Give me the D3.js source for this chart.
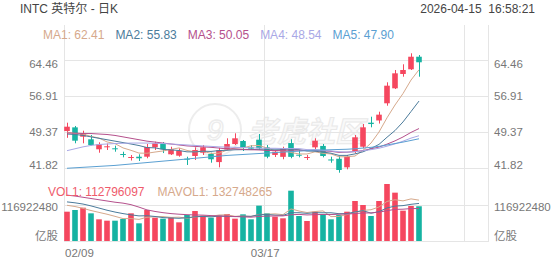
<!DOCTYPE html>
<html>
<head>
<meta charset="utf-8">
<script src="https://cdnjs.cloudflare.com/ajax/libs/d3/7.8.5/d3.min.js"></script>
<style>
  body { margin: 0; background: #fff; }
  svg { display: block; }
  text { font-family: "Liberation Sans", Arial, "Noto Sans CJK SC", sans-serif; }
</style>
</head>
<body>
<svg id="chart" width="552" height="265"></svg>
<script>
// daily candles, INTC
const dates = ["02/09","02/10","02/11","02/12","02/13","02/17","02/18","02/19","02/20",
  "02/23","02/24","02/25","02/26","02/27","03/02","03/03","03/04","03/05","03/06",
  "03/09","03/10","03/11","03/12","03/13","03/16","03/17","03/18","03/19","03/20",
  "03/23","03/24","03/25","03/26","03/27","03/30","03/31","04/01","04/02",
  "04/06","04/07","04/08","04/09","04/10","04/13","04/14"];
const opens  = [49.53,50.30,48.34,47.79,45.69,46.17,45.90,44.70,43.92,44.13,44.13,46.11,46.80,44.64,44.34,
  43.71,44.28,44.97,44.70,43.00,45.65,46.80,47.43,46.10,47.70,46.10,44.50,44.10,47.00,44.55,43.90,46.10,46.40,
  43.55,43.70,41.90,45.18,46.23,51.28,51.75,55.36,58.51,61.52,62.51,65.15];
const highs  = [51.28,50.59,49.60,48.69,47.16,46.91,46.45,45.18,44.49,44.64,46.80,47.29,47.20,46.23,45.90,
  44.13,46.11,46.59,44.97,46.00,48.00,49.05,47.64,46.59,48.90,46.59,45.54,46.23,47.80,45.54,44.49,48.00,46.80,
  44.13,44.28,44.49,48.69,51.00,52.54,53.59,59.77,62.36,63.56,65.87,65.51];
const lows   = [48.10,46.95,46.95,46.49,44.97,45.54,45.18,44.00,43.33,43.23,43.80,45.54,44.90,44.49,44.13,
  42.39,43.44,44.49,42.87,41.90,45.54,46.59,45.33,45.54,45.60,43.80,44.07,43.59,43.80,44.00,43.44,45.70,44.00,
  42.87,40.77,41.48,44.85,45.90,50.31,51.10,54.85,58.36,60.95,62.36,60.95];
const closes = [50.44,47.50,49.05,46.59,46.74,46.32,45.69,44.55,44.07,43.80,46.17,46.95,45.70,45.69,45.39,
  43.50,45.54,46.11,43.59,45.50,46.80,48.00,45.96,45.81,45.90,44.13,45.18,45.90,44.10,44.34,44.07,47.50,44.28,
  43.38,41.34,44.13,48.21,50.31,51.00,52.97,59.06,61.66,62.36,65.15,63.98];
// volume, millions of shares
const vols = [95.2,100.7,108.2,89.9,70.4,66.0,66.0,71.5,89.9,57.4,100.7,75.8,72.6,76.9,60.6,84.4,97.4,82.3,
  75.8,82.3,87.7,72.6,86.6,70.4,114.8,89.9,79.0,73.7,163.4,81.2,65.0,95.2,84.4,70.4,84.4,95.2,129.9,116.9,
  81.2,129.9,185.1,157.0,98.5,113.7,112.8];

// moving average lines
const ma1 = [49.3,49.0,48.9,48.4,48.06,47.24,46.88,45.98,45.47,44.89,44.86,45.11,45.34,45.66,45.98,45.45,45.16,
  45.25,44.83,44.86,45.52,46.01,45.98,46.42,46.49,45.96,45.40,45.38,45.02,44.71,44.70,45.16,44.84,44.71,44.11,
  44.13,44.27,45.47,47.00,49.32,52.31,55.00,57.41,60.24,62.41];
const ma2 = [48.9,48.8,48.6,48.3,48.0,47.7,47.4,47.1,46.8,46.48,46.05,45.99,45.66,45.57,45.43,45.15,45.14,45.29,
  45.24,45.42,45.48,45.59,45.61,45.62,45.68,45.74,45.70,45.68,45.72,45.60,45.33,45.28,45.11,44.87,44.41,44.41,
  44.72,45.16,45.86,46.72,48.22,49.63,51.44,53.62,55.83];
const ma3 = [49.1,49.1,49.0,49.0,48.9,48.8,48.6,48.3,48.0,47.7,47.4,47.2,47.0,46.8,46.6,46.4,46.3,46.2,46.1,45.95,
  45.76,45.79,45.64,45.60,45.55,45.44,45.42,45.49,45.48,45.51,45.41,45.43,45.36,45.25,45.04,45.08,45.21,45.42,
  45.79,46.16,46.77,47.46,48.28,49.24,50.05];
const ma4 = [45.4,45.8,46.2,46.5,46.7,46.8,46.9,46.95,47.0,47.0,47.0,46.95,46.9,46.8,46.7,46.6,46.5,46.4,46.3,46.2,
  46.15,46.1,46.05,46.0,45.95,45.9,45.9,45.85,45.85,45.83,45.62,45.62,45.46,45.35,45.17,45.10,45.18,45.38,45.61,
  45.91,46.34,46.83,47.39,48.04,48.54];
const ma5 = [41.7,41.8,41.9,42.0,42.1,42.2,42.3,42.45,42.6,42.75,42.9,43.05,43.2,43.35,43.5,43.65,43.8,43.95,44.1,
  44.25,44.4,44.5,44.6,44.7,44.8,44.9,45.0,45.1,45.2,45.3,45.4,45.5,45.55,45.6,45.65,45.7,45.8,45.95,46.1,46.3,
  46.6,46.9,47.2,47.55,47.9];
const mavol1 = [116,112,106,99,92.9,87.0,80.1,72.8,72.8,70.2,77.1,79.1,79.3,76.7,77.3,74.1,78.4,80.3,80.1,84.4,
  85.1,80.1,81.0,79.9,86.4,86.9,88.1,85.6,104.2,97.4,92.5,95.7,97.8,79.2,79.9,85.9,92.9,99.4,101.5,110.6,128.6,
  134.0,130.3,136.8,132.7];
const mavol2 = [127,124,120,114,107,100,94,89,85,81.5,82.1,79.6,76.0,74.7,73.7,75.6,78.7,79.8,78.4,80.9,79.6,79.3,
  80.7,80.0,85.4,86.0,84.1,83.3,92.0,91.9,89.7,91.9,91.7,91.7,88.7,89.2,94.3,98.6,90.4,95.3,107.3,113.4,114.9,
  119.2,122.0];
const mavol3 = [149,146,142,138,134,130,126,123,118,110,101,96,92,89,87,85.5,84.5,84,82.5,81.2,80.8,79.4,78.3,77.4,
  79.6,80.8,81.4,81.5,85.2,86.4,84.6,85.6,86.2,85.9,87.0,87.6,89.2,90.9,91.2,93.6,98.5,102.7,103.3,105.4,105.3];

const maNames = ["MA1","MA2","MA3","MA4","MA5"];
const maLast = ["62.41","55.83","50.05","48.54","47.90"];
const priceTicks = [41.82, 49.37, 56.91, 64.46];
const volTicks = [0, 116922480];
const volTickText = ["亿股", "116922480"];
const dateTicks = [0, 25, 50];

const maColors = ["#d6a98c", "#4b7b9b", "#b5508c", "#a9a8e6", "#5ba0d2"];
const up = "#f5475f", down = "#16b3a2";
const grid = "#e5e5e5", axisText = "#777";

const svg = d3.select("#chart");
const left = 64, right = 488;

const x = d3.scaleBand().domain(d3.range(53)).range([left - 1, right - 1])
  .paddingInner(0.3).paddingOuter(0.15);
const bw = x.bandwidth();
const cx = i => x(i) + bw / 2;
const y = d3.scaleLinear().domain([41.82, 64.46]).range([167.7, 60]);
const yv = d3.scaleLinear().domain([0, 116922480]).range([241, 205]);

// watermark (very faint)
const wm = svg.append("g");
wm.append("circle").attr("cx", 215).attr("cy", 130).attr("r", 26)
  .attr("fill", "none").attr("stroke", "#ededed").attr("stroke-width", 2);
wm.append("text").attr("x", 215).attr("y", 140).attr("text-anchor", "middle")
  .attr("font-size", 30).attr("font-style", "italic").attr("fill", "none")
  .attr("stroke", "#ececec").attr("stroke-width", 1.4).text("9");
wm.append("text").attr("x", 248).attr("y", 142).attr("font-size", 29)
  .attr("font-style", "italic").attr("font-weight", "bold")
  .attr("fill", "#f9f9f9").attr("stroke", "#e9e9e9").attr("stroke-width", 1)
  .style("font-family", "'Noto Sans CJK SC'").text("老虎社区");

// grid lines
const g = svg.append("g").attr("stroke", grid).attr("stroke-width", 1);
priceTicks.forEach(t => g.append("line").attr("x1", left).attr("x2", right)
  .attr("y1", Math.round(y(t)) + 0.5).attr("y2", Math.round(y(t)) + 0.5));
volTicks.forEach(t => g.append("line").attr("x1", left).attr("x2", right)
  .attr("y1", Math.round(yv(t)) + 0.5).attr("y2", Math.round(yv(t)) + 0.5));
dateTicks.forEach(i => g.append("line").attr("x1", Math.round(x(i)) + 0.5).attr("x2", Math.round(x(i)) + 0.5)
  .attr("y1", 25).attr("y2", 242));
g.append("line").attr("x1", right + 0.5).attr("x2", right + 0.5).attr("y1", 25).attr("y2", 242);

// price axis labels on both sides
priceTicks.forEach((t, k) => {
  let shift = k === priceTicks.length - 1 ? 8 : (k === 0 ? 1 : 4);
  [[58, "end"], [494, "start"]].forEach(([px, anchor]) => {
    svg.append("text").attr("x", px).attr("y", y(t) + shift).attr("text-anchor", anchor)
      .attr("font-size", 11.5).attr("fill", axisText).text(t.toFixed(2));
  });
});
volTicks.forEach((t, k) => {
  let shift = k === 0 ? -1 : 5.5;
  [[58, "end"], [494, "start"]].forEach(([px, anchor]) => {
    svg.append("text").attr("x", px).attr("y", yv(t) + shift).attr("text-anchor", anchor)
      .attr("font-size", 11.5).attr("fill", axisText).text(volTickText[k]);
  });
});

// date labels
dateTicks.forEach(i => {
  if (!dates[i]) return;
  svg.append("text").attr("x", i === 0 ? left + 1 : x(i) + 1).attr("y", 257)
    .attr("text-anchor", i === 0 ? "start" : "middle")
    .attr("font-size", 11.5).attr("fill", axisText).text(dates[i]);
});

// candles
const idx = d3.range(dates.length);
const cg = svg.append("g");
cg.selectAll("line.wick").data(idx).join("line").attr("class", "wick")
  .attr("x1", i => Math.round(cx(i)) + 0.5).attr("x2", i => Math.round(cx(i)) + 0.5)
  .attr("y1", i => y(highs[i])).attr("y2", i => y(lows[i]))
  .attr("stroke", i => closes[i] >= opens[i] ? up : down).attr("stroke-width", 1);
cg.selectAll("rect.body").data(idx).join("rect").attr("class", "body")
  .attr("x", i => x(i)).attr("width", bw)
  .attr("y", i => y(Math.max(opens[i], closes[i])))
  .attr("height", i => Math.max(1, Math.abs(y(opens[i]) - y(closes[i]))))
  .attr("fill", i => closes[i] >= opens[i] ? up : down);

// MA lines
const lineP = d3.line().x((d, i) => cx(i)).y(d => y(d));
[ma1, ma2, ma3, ma4, ma5].forEach((s, k) => {
  svg.append("path").attr("d", lineP(s)).attr("fill", "none")
    .attr("stroke", maColors[k]).attr("stroke-width", 1);
});

// volume bars
svg.append("g").selectAll("rect").data(idx).join("rect")
  .attr("x", i => x(i)).attr("width", bw)
  .attr("y", i => yv(vols[i] * 1e6)).attr("height", i => yv(0) - yv(vols[i] * 1e6))
  .attr("fill", i => closes[i] >= opens[i] ? up : down);
const lineV = d3.line().x((d, i) => cx(i)).y(d => yv(d * 1e6));
[mavol1, mavol2, mavol3].forEach((s, k) => {
  svg.append("path").attr("d", lineV(s)).attr("fill", "none")
    .attr("stroke", maColors[k]).attr("stroke-width", 1);
});

// header
svg.append("text").attr("x", 20).attr("y", 13).attr("font-size", 12).attr("fill", "#444")
  .text("INTC 英特尔 - 日K");
svg.append("text").attr("x", 535).attr("y", 13).attr("font-size", 12).attr("fill", "#444")
  .attr("text-anchor", "end").attr("xml:space", "preserve").text("2026-04-15  16:58:21");

// legends
let lx = 43;
maNames.forEach((n, k) => {
  const t = svg.append("text").attr("x", lx).attr("y", 39).attr("font-size", 12)
    .attr("fill", maColors[k]).text(n + ": " + maLast[k]);
  lx += t.node().getComputedTextLength() + 11;
});
const v1 = svg.append("text").attr("x", 48).attr("y", 196).attr("font-size", 12)
  .attr("fill", "#ef5b6c").text("VOL1: 112796097");
svg.append("text").attr("x", 48 + v1.node().getComputedTextLength() + 13).attr("y", 196)
  .attr("font-size", 12).attr("fill", maColors[0]).text("MAVOL1: 132748265");
</script>
</body>
</html>
